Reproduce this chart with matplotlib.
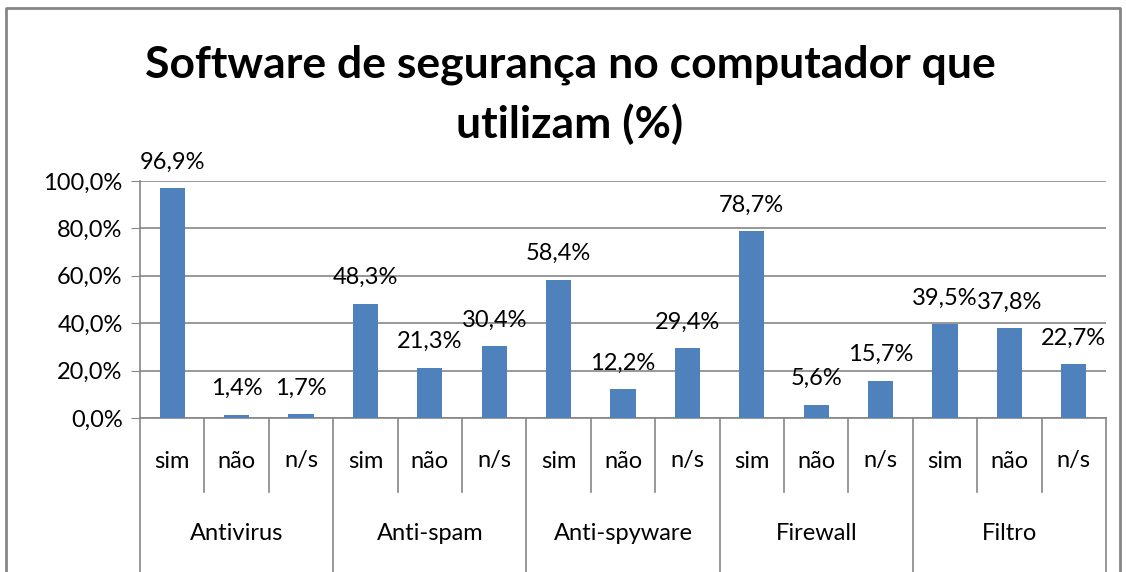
import matplotlib.pyplot as plt
from matplotlib.ticker import FuncFormatter

groups = ['Antivirus', 'Anti-spam', 'Anti-spyware', 'Firewall', 'Filtro']
answers = ['sim', 'não', 'n/s']
values = [96.9, 1.4, 1.7,
          48.3, 21.3, 30.4,
          58.4, 12.2, 29.4,
          78.7, 5.6, 15.7,
          39.5, 37.8, 22.7]

plt.rcParams['font.family'] = ['Lato', 'DejaVu Sans']
grey = '#868686'
blue = '#4F81BD'

fig = plt.figure(figsize=(11.26, 5.72), dpi=100)
W, H = 1126, 572
ax = fig.add_axes([140 / W, 1 - 418 / H, (1106 - 140) / W, (418 - 181) / H])

n = len(values)
xs = list(range(n))
ax.bar(xs, values, width=0.39, color=blue, zorder=3)
for x, v in zip(xs, values):
    ax.annotate(f'{v:.1f}%'.replace('.', ','), (x, v), xytext=(0, 26),
                textcoords='offset pixels', ha='center', va='center', fontsize=17)

ax.set_xlim(-0.5, n - 0.5)
ax.set_ylim(0, 100)
ax.set_yticks(range(0, 101, 20))
ax.yaxis.set_major_formatter(FuncFormatter(lambda v, p: f'{v:.1f}%'.replace('.', ',')))
ax.tick_params(axis='y', length=6.5, color=grey, labelsize=17, pad=6)
ax.grid(axis='y', color=grey, linewidth=1.2, zorder=0)
for s in ['top', 'right']:
    ax.spines[s].set_visible(False)
for s in ['left', 'bottom']:
    ax.spines[s].set_color(grey)
    ax.spines[s].set_linewidth(1.2)

# multi-level category axis
ax.set_xticks([])
trans = ax.get_xaxis_transform()
sub_drop = (492 - 418) / (418 - 181)
grp_drop = (572 - 418) / (418 - 181)
for i in range(n):
    ax.text(i, -(461 - 418) / (418 - 181), answers[i % 3], transform=trans,
            ha='center', va='center', fontsize=17)
for i in range(n + 1):
    drop = grp_drop if i % 3 == 0 else sub_drop
    ax.plot([i - 0.5, i - 0.5], [0, -drop], transform=trans, color=grey,
            linewidth=1.2, clip_on=False)
for g, name in enumerate(groups):
    ax.text(3 * g + 1, -(533 - 418) / (418 - 181), name, transform=trans,
            ha='center', va='center', fontsize=17)

fig.text(570 / W, 1 - 65 / H, 'Software de segurança no computador que',
         ha='center', va='center', fontsize=32, fontweight='bold')
fig.text(570 / W, 1 - 124 / H, 'utilizam (%)',
         ha='center', va='center', fontsize=32, fontweight='bold')

# outer chart frame
fig.add_artist(plt.Line2D([6 / W, 6 / W, 1120 / W, 1120 / W], [0, 1 - 8 / H, 1 - 8 / H, 0],
                          color=grey, linewidth=2))

fig.savefig('out.png', dpi=100)
